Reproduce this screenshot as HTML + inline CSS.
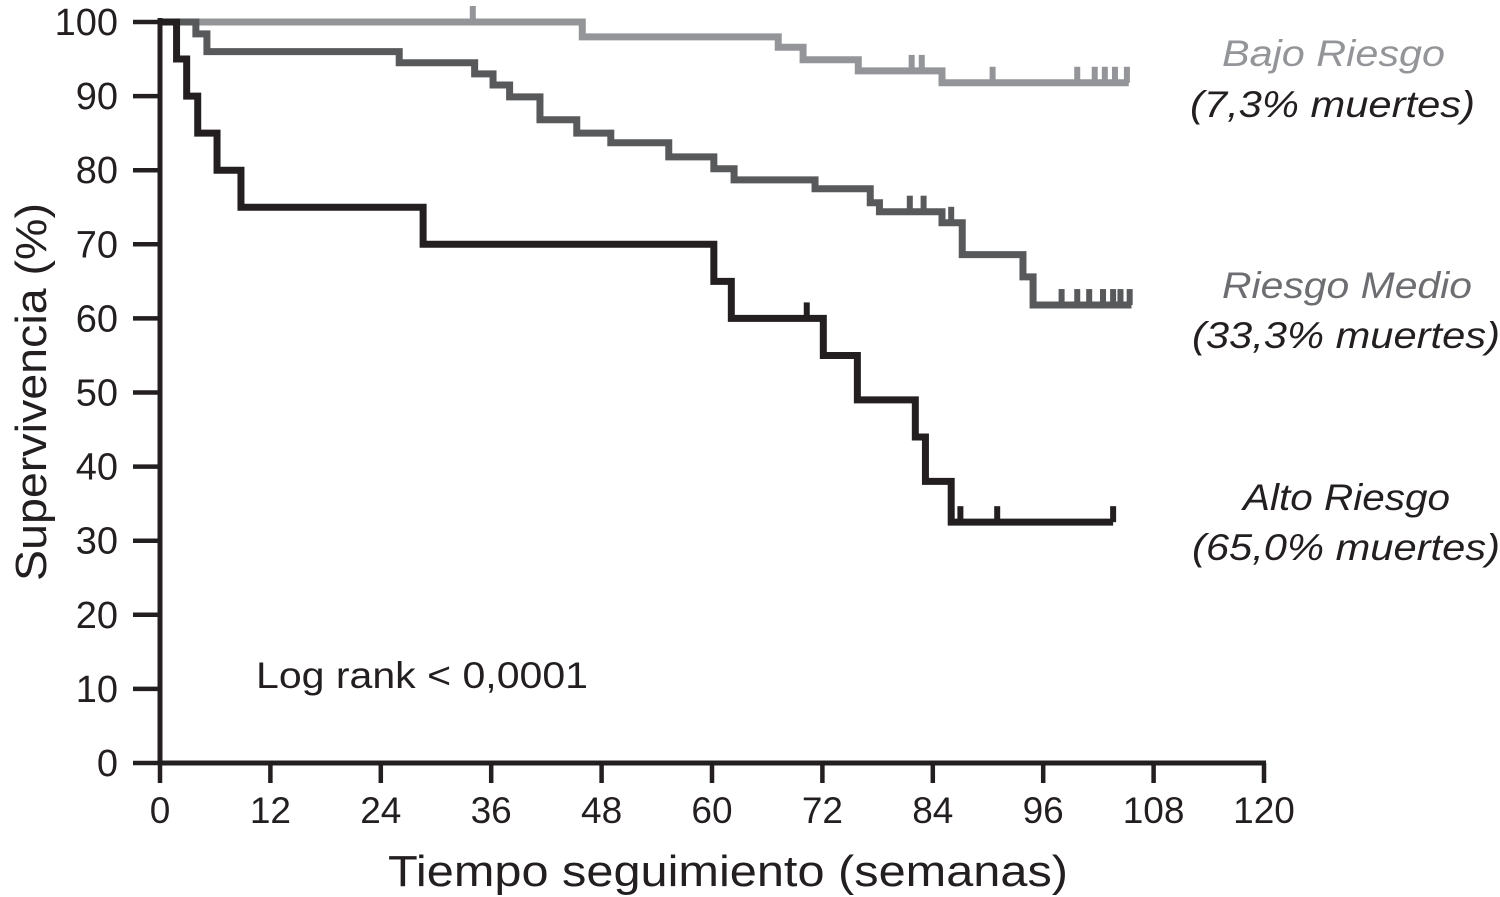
<!DOCTYPE html>
<html><head><meta charset="utf-8"><style>
html,body{margin:0;padding:0;background:#fff;}
svg{display:block;font-family:"Liberation Sans",Arial,sans-serif;}
</style></head><body>
<svg id="chart" width="1500" height="897" viewBox="0 0 1500 897" xmlns="http://www.w3.org/2000/svg">
<g id="axes"></g>
<g id="series"></g>
<text transform="translate(46,392) rotate(-90)" text-anchor="middle" font-size="44" fill="#231f20" textLength="378" lengthAdjust="spacingAndGlyphs">Supervivencia (%)</text>
<text x="728" y="886" text-anchor="middle" font-size="44" fill="#231f20" textLength="680" lengthAdjust="spacingAndGlyphs">Tiempo seguimiento (semanas)</text>
<text x="256" y="688" font-size="37" fill="#231f20" textLength="332" lengthAdjust="spacingAndGlyphs">Log rank &lt; 0,0001</text>
<g font-style="italic" font-size="37" fill="#939598">
<text x="1222" y="66" textLength="223" lengthAdjust="spacingAndGlyphs">Bajo Riesgo</text><text x="1190" y="117" fill="#231f20" textLength="285" lengthAdjust="spacingAndGlyphs">(7,3% muertes)</text></g>
<g font-style="italic" font-size="37" fill="#6d6e71">
<text x="1222" y="298" textLength="250" lengthAdjust="spacingAndGlyphs">Riesgo Medio</text><text x="1192" y="348" fill="#231f20" textLength="308" lengthAdjust="spacingAndGlyphs">(33,3% muertes)</text></g>
<g font-style="italic" font-size="37" fill="#231f20">
<text x="1243" y="510" textLength="207" lengthAdjust="spacingAndGlyphs">Alto Riesgo</text><text x="1192" y="560" textLength="308" lengthAdjust="spacingAndGlyphs">(65,0% muertes)</text></g>
</svg>
<script>
const xTicks = [0,12,24,36,48,60,72,84,96,108,120];
const yTicks = [0,10,20,30,40,50,60,70,80,90,100];
const bajoTimes = [0,45.9,67.2,69.9,75.9,85.0,105.3];
const bajoValues = [100,98,96.6,94.9,93.4,91.8,91.8];
const bajoCensor = [34,81.7,82.8,90.5,99.7,101.6,102.7,103.8,105.1];
const medioTimes = [0,3.9,5.1,26,34.2,36.2,38,41.3,45.3,49,55.3,60.2,62.4,71.2,77.2,78.2,85,87.2,93.8,94.9,105.6];
const medioValues = [100,98.4,96,94.5,93,91.5,89.9,86.8,85,83.7,81.8,80.2,78.7,77.5,75.6,74.4,72.9,68.6,65.6,61.8,61.8];
const medioCensor = [81.5,83,86,98,99.7,101,102.5,103.6,104.4,105.4];
const altoTimes = [0,1.8,2.9,4.1,6.2,8.8,28.6,60.2,62.1,72.1,75.8,82.1,83.2,86.0,103.6];
const altoValues = [100,95,90,85,80,75,70,65,60,55,49,44,38,32.5,32.5];
const altoCensor = [70.3,87,91,103.6];

const NS="http://www.w3.org/2000/svg";
const X0=160,X1=1264,Y0=763,Y1=22;
const sx=t=>X0+t*(X1-X0)/120;
const sy=v=>Y0-v*(Y0-Y1)/100;
function mk(tag,attrs,parent){const e=document.createElementNS(NS,tag);for(const k in attrs)e.setAttribute(k,attrs[k]);parent.appendChild(e);return e;}
const axes=document.getElementById('axes');
const ink="#231f20";
let a=mk('line',{x1:X0,y1:Y1-4,x2:X0,y2:Y0+2,stroke:ink,'stroke-width':5},axes);


a=mk('line',{x1:X0-2,y1:Y0,x2:X1+2,y2:Y0,stroke:ink,'stroke-width':5},axes);


yTicks.forEach(v=>{
  const l=mk('line',{x1:X0-27,y1:sy(v),x2:X0,y2:sy(v),stroke:ink,'stroke-width':4.5},axes);
  
  
  const t=mk('text',{x:X0-42,y:sy(v)+13,'text-anchor':'end','font-size':38,fill:ink},axes);
  t.textContent=v;
  
  
});
xTicks.forEach(v=>{
  const l=mk('line',{x1:sx(v),y1:Y0,x2:sx(v),y2:Y0+20,stroke:ink,'stroke-width':4.5},axes);
  
  
  const t=mk('text',{x:sx(v),y:823,'text-anchor':'middle','font-size':37,fill:ink},axes);
  t.textContent=v;
  
  
});
const series=document.getElementById('series');
function valueAt(times,vals,t){let v=vals[0];for(let i=0;i<times.length;i++){if(times[i]<=t)v=vals[i];}return v;}
function drawSeries(times,vals,censor,color,name){
  const g=mk('g',{},series);
  
  
  let d='M'+sx(times[0])+' '+sy(vals[0]);
  for(let i=1;i<times.length;i++){d+=' H'+sx(times[i])+' V'+sy(vals[i]);}
  const p=mk('path',{d:d,fill:'none',stroke:color,'stroke-width':7,'stroke-linejoin':'miter'},g);
  
  
  censor.forEach(t=>{
    const v=valueAt(times,vals,t);
    const c=mk('line',{x1:sx(t),y1:sy(v)-16,x2:sx(t),y2:sy(v),stroke:color,'stroke-width':6},g);
    
    
  });
}
drawSeries(bajoTimes,bajoValues,bajoCensor,'#939598','bajo-riesgo-series');
drawSeries(medioTimes,medioValues,medioCensor,'#58595b','riesgo-medio-series');
drawSeries(altoTimes,altoValues,altoCensor,'#231f20','alto-riesgo-series');
</script>
</body></html>
